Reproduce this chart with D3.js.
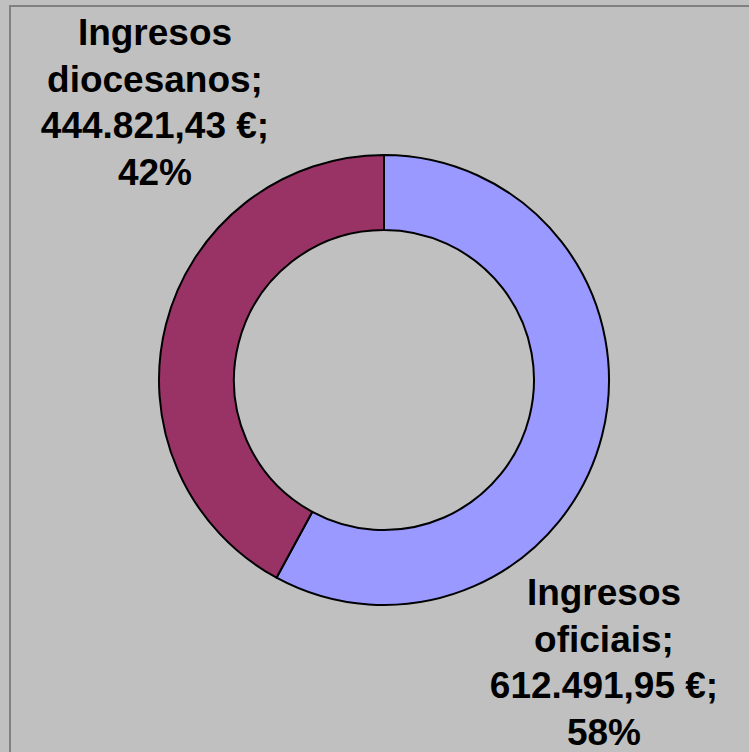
<!DOCTYPE html>
<html>
<head>
<meta charset="utf-8">
<title>Ingresos</title>
<script src="https://d3js.org/d3.v7.min.js"></script>
<style>
  body { margin: 0; background: #c0c0c0; }
  svg { display: block; }
  .lbl { font-family: "Liberation Sans", Arial, sans-serif; font-weight: bold; font-size: 37px; fill: #000; }
</style>
</head>
<body>
<div id="chart"></div>
<script>
// data
var categories = ["Ingresos oficiais", "Ingresos diocesanos"];
var values = [612491.95, 444821.43];
var labelLines = [
  ["Ingresos", "oficiais;", "612.491,95 €;", "58%"],
  ["Ingresos", "diocesanos;", "444.821,43 €;", "42%"]
];
var colors = ["#9999ff", "#993366"];

var width = 749, height = 752;
var cx = 384, cy = 380;
var outerR = 225, innerR = 150;

var svg = d3.select("#chart").append("svg")
    .attr("width", width)
    .attr("height", height);

svg.append("rect")
    .attr("width", width).attr("height", height)
    .attr("fill", "#c0c0c0");

// frame (only top/left edges visible in the picture)
svg.append("rect")
    .attr("x", 10).attr("y", 6)
    .attr("width", width + 20).attr("height", height + 20)
    .attr("fill", "none")
    .attr("stroke", "#808080")
    .attr("stroke-width", 2);

var pie = d3.pie().sort(null).value(function(d) { return d; });
var arc = d3.arc().innerRadius(innerR).outerRadius(outerR);

var g = svg.append("g").attr("transform", "translate(" + cx + "," + cy + ")");

g.selectAll("path")
    .data(pie(values))
    .enter().append("path")
    .attr("d", arc)
    .attr("fill", function(d, i) { return colors[i]; })
    .attr("stroke", "#000")
    .attr("stroke-width", 2)
    .attr("stroke-linejoin", "round");

// label anchors (Excel placed them outside the ring)
var labelPos = [[604, 605], [155, 45]];
var lineH = 46.7;

labelLines.forEach(function(lines, i) {
  var t = svg.append("text")
      .attr("class", "lbl")
      .attr("text-anchor", "middle");
  lines.forEach(function(s, j) {
    t.append("tspan")
        .attr("x", labelPos[i][0])
        .attr("y", labelPos[i][1] + j * lineH)
        .text(s);
  });
});
</script>
</body>
</html>
